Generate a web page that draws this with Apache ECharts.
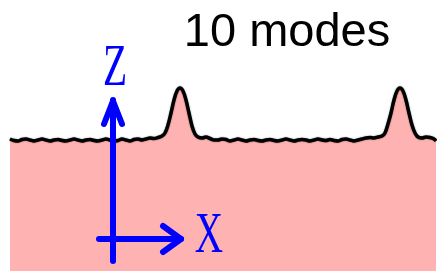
<!DOCTYPE html>
<html>
<head>
<meta charset="utf-8">
<script src="https://cdn.jsdelivr.net/npm/echarts@6/dist/echarts.min.js"></script>
<style>html,body{margin:0;padding:0;background:#fff;}#c{width:437px;height:271px;}</style>
</head>
<body>
<div id="c"></div>
<script>
// Surface profile: horizontal position and surface height (height measured up from the bottom of the frame)
var xs = [10,14,18,22,26,30,34,38,42,46,50,54,58,62,66,70,74,78,82,86,90,94,98,102,106,110,114,118,122,126,130,134,138,142,146,150,154,158,162,165,168,171,174,177,180,183,186,189,192,195,198,202,206,210,214,218,222,226,230,234,238,242,246,250,254,258,262,266,270,274,278,282,286,290,294,298,302,306,310,314,318,322,326,330,334,338,342,346,350,354,358,362,366,370,374,378,382,385,388,391,394,397,400,403,406,409,412,415,418,422,426,430,434,436];
var ys = [139,140.5,141,139.5,139,140,141,140,139,140,141,140,139.5,140.5,141,140,139,140,141,140,139.5,140.5,141,140,139,140,141,140.5,139,140,141,139.5,139,140,139,138,138.5,137.5,136,133,125,113,100,91,88,91,100,113,126,134,137,138,137,138.5,140,140,139,139.5,141,140,139,140,141,140,139.5,140.5,141,140,139.5,140.5,141,140,139,140,141,140,139.5,140,141,140,139,140,140.5,139.5,140.5,141,139.5,139,140,141,140,139,138,137.5,138,137,136,133,124,113,100,91,88,91,100,113,125,133,137,138,137,137.5,139,141];
var H = 271;
var heights = ys.map(function(y){ return H - y; });
var titleText = '10 modes';
var axisLabels = ['Z', 'X'];

var data = xs.map(function(x, i){ return [x, heights[i]]; });
var chart = echarts.init(document.getElementById('c'), null, {renderer:'canvas'});
var blue = '#0000ff';
chart.setOption({
  animation: false,
  backgroundColor: '#ffffff',
  grid: {left: 0, right: 0, top: 0, bottom: 0},
  xAxis: {type: 'value', min: 0, max: 437, show: false},
  yAxis: {type: 'value', min: 0, max: H, show: false},
  series: [{
    type: 'line',
    data: data,
    symbol: 'none',
    smooth: 0.35,
    lineStyle: {color: '#000', width: 3.5, shadowColor: 'rgba(0,0,0,0.5)', shadowBlur: 1.5},
    areaStyle: {color: '#ffb2b2', opacity: 1, origin: 'start'},
    z: 2
  }],
  graphic: [
    {type: 'text', x: 287, y: 33, z: 100, style: {text: titleText, font: '47px "Liberation Sans", Arial, sans-serif', fill: '#000', align: 'center', verticalAlign: 'middle'}},
    {type: 'line', z: 100, shape: {x1: 113, y1: 261, x2: 113, y2: 100}, style: {stroke: blue, lineWidth: 6, lineCap: 'round'}},
    {type: 'polyline', z: 100, shape: {points: [[104,124],[113,101],[122,124]]}, style: {stroke: blue, fill: null, lineWidth: 6, lineCap: 'round', lineJoin: 'round'}},
    {type: 'line', z: 100, shape: {x1: 99, y1: 239, x2: 181, y2: 239}, style: {stroke: blue, lineWidth: 6, lineCap: 'round'}},
    {type: 'polyline', z: 100, shape: {points: [[163,226],[181,239],[163,252]]}, style: {stroke: blue, fill: null, lineWidth: 6, lineCap: 'round', lineJoin: 'round'}},
    {type: 'text', x: 115, y: 69, scaleX: 0.67, z: 100, style: {text: axisLabels[0], font: '59px "Liberation Serif", "Times New Roman", serif', fill: blue, align: 'center', verticalAlign: 'middle'}},
    {type: 'text', x: 209, y: 237, scaleX: 0.7, z: 100, style: {text: axisLabels[1], font: '56px "Liberation Serif", "Times New Roman", serif', fill: blue, align: 'center', verticalAlign: 'middle'}}
  ]
});
</script>
</body>
</html>
